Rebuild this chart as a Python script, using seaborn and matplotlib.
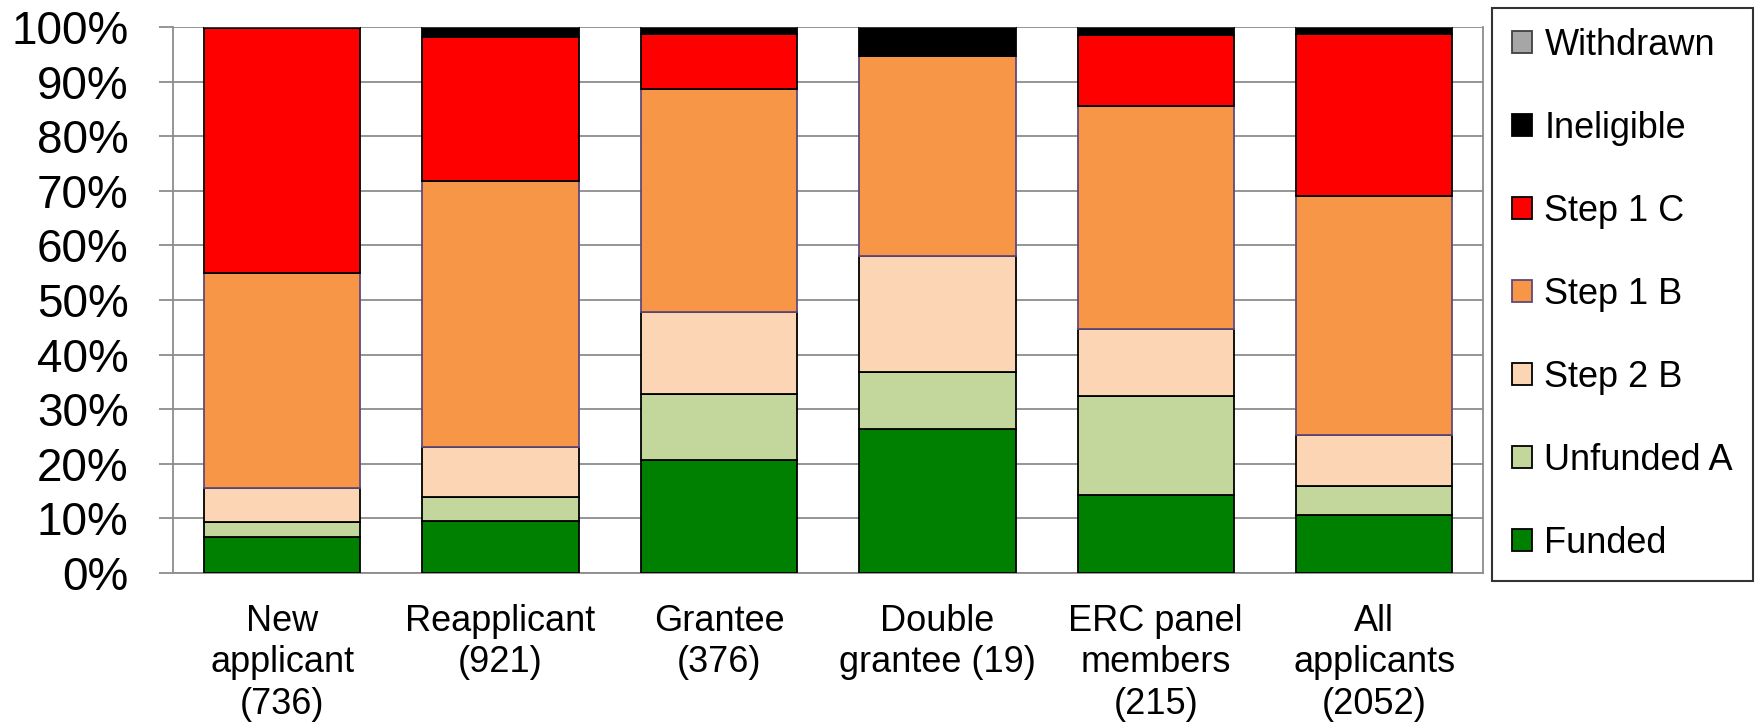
import matplotlib
matplotlib.use("Agg")
import matplotlib.pyplot as plt
import numpy as np
import seaborn as sns
from matplotlib.patches import Patch
from matplotlib.ticker import FixedLocator, PercentFormatter

# applicant groups (x axis)
categories = [
    "New\napplicant\n(736)",
    "Reapplicant\n(921)",
    "Grantee\n(376)",
    "Double\ngrantee (19)",
    "ERC panel\nmembers\n(215)",
    "All\napplicants\n(2052)",
]

# share of each outcome per group, in percent (bottom to top)
funded = [6.5, 9.5, 20.7, 26.3, 14.3, 10.7]
unfunded_a = [2.9, 4.4, 12.0, 10.6, 18.2, 5.2]
step_2b = [6.2, 9.1, 15.1, 21.1, 12.1, 9.3]
step_1b = [39.4, 48.8, 40.8, 36.7, 41.0, 43.8]
step_1c = [44.8, 26.3, 10.2, 0.0, 13.0, 29.7]
ineligible = [0.2, 1.9, 1.2, 5.3, 1.4, 1.3]
withdrawn = [0.0, 0.0, 0.0, 0.0, 0.0, 0.0]

series = [
    ("Funded", funded, "#008000", "black"),
    ("Unfunded A", unfunded_a, "#c3d69b", "black"),
    ("Step 2 B", step_2b, "#fcd5b5", "black"),
    ("Step 1 B", step_1b, "#f79646", "#5f497a"),
    ("Step 1 C", step_1c, "#ff0000", "black"),
    ("Ineligible", ineligible, "#000000", "black"),
    ("Withdrawn", withdrawn, "#a6a6a6", "#404040"),
]

sns.set_style("white")
plt.rcParams["font.family"] = ["Liberation Sans", "DejaVu Sans"]
plt.rcParams["text.color"] = "black"
plt.rcParams["xtick.color"] = "black"
plt.rcParams["ytick.color"] = "black"

fig = plt.figure(figsize=(17.62, 7.24), dpi=100)
ax = fig.add_axes([0.0982, 0.2086, 0.7436, 0.7541])

bottom = np.zeros(len(categories))
for name, vals, color, edge in series:
    sns.barplot(x=categories, y=vals, bottom=bottom, color=color,
                saturation=1, edgecolor=edge, linewidth=1.3, width=0.716,
                ax=ax, zorder=3)
    bottom = bottom + np.array(vals)

grid_c = "#8c8c8c"
ax.set_ylim(0, 100)
ax.set_xlim(-0.5, len(categories) - 0.5)
ax.set_yticks(np.arange(0, 101, 10))
ax.yaxis.set_major_formatter(PercentFormatter(decimals=0))
ax.yaxis.grid(True, color=grid_c, linewidth=1.3, zorder=0)
ax.set_axisbelow(True)

# x ticks as boundaries between groups, labels centred under bars
ax.xaxis.set_minor_locator(FixedLocator(np.arange(-0.5, len(categories), 1)))
ax.tick_params(axis="x", which="major", length=0, pad=22, labelsize=26,
               labelcolor="black")
ax.tick_params(axis="x", which="minor", length=10, width=1.3, color=grid_c,
               direction="out")
ax.tick_params(axis="y", length=10, width=1.3, color=grid_c, pad=22,
               labelsize=33, left=True, labelcolor="black")
for lbl in ax.get_xticklabels():
    lbl.set_linespacing(1.25)

for side in ["left", "bottom", "right"]:
    ax.spines[side].set_color(grid_c)
    ax.spines[side].set_linewidth(1.3)
ax.spines["top"].set_visible(False)

handles = [Patch(facecolor=c, edgecolor=e, linewidth=1.3, label=n)
           for n, _, c, e in series[::-1]]
leg = fig.legend(handles=handles, loc="lower left",
                 bbox_to_anchor=(1492 / 1762, (724 - 581) / 724),
                 fontsize=26, frameon=True, fancybox=False,
                 edgecolor="black", labelspacing=1.33, handlelength=0.55,
                 handleheight=0.55, handletextpad=0.35, borderpad=0.55,
                 borderaxespad=0)
leg.get_frame().set_linewidth(1.5)
for t in leg.get_texts():
    t.set_color("black")

fig.savefig("out.png", dpi=100)
